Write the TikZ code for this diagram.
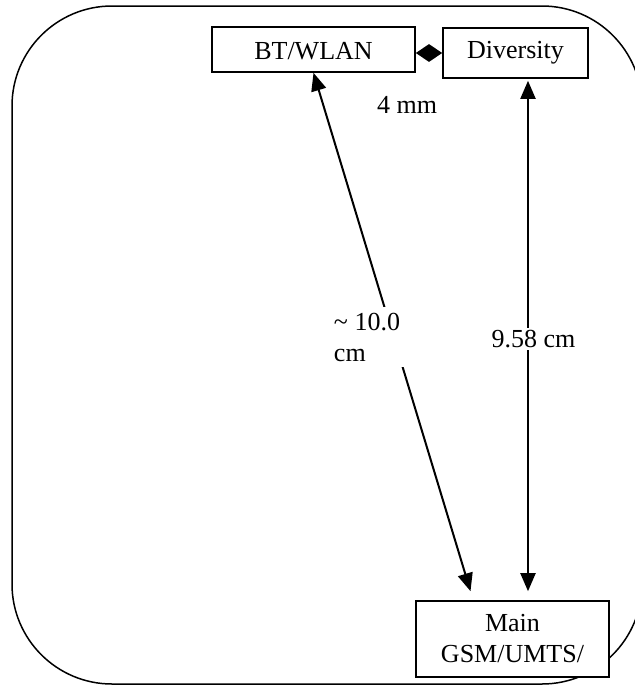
\documentclass[tikz,border=0pt]{standalone}
\usepackage{fontspec}
\setmainfont{Liberation Serif}
\usetikzlibrary{arrows.meta,positioning}

\tikzset{
  >={Triangle[length=9pt,width=7.5pt]},
  diam/.tip={Triangle[length=6.5pt,width=8.5pt]}
}

\begin{document}
\begin{tikzpicture}[x=0.5pt,y=-0.5pt,font=\fontsize{13}{15.5}\selectfont]
  \useasboundingbox (0,0) rectangle (635,685);
  % phone outline
  \draw[line width=0.75pt,rounded corners=50pt] (12,6) rectangle (642,684);
  \begin{scope}[every node/.style={draw,fill=white,rectangle,line width=0.8pt,inner sep=0pt}]
    \node (bt)[minimum width=101.5pt,minimum height=22.5pt,text height=10pt] at (313.5,49.5) {BT/WLAN};
    \node (div)[minimum width=72.5pt,minimum height=25pt] at (515.5,53) {Diversity};
    \node (main)[minimum width=96.5pt,minimum height=38pt,align=center] at (512.5,639) {Main\\GSM/UMTS/};
  \end{scope}
  \begin{scope}
    [every edge/.style={draw=black,line width=1pt},
    every node/.style={fill=white}]
    \path (bt.east |- div.west) edge[diam-diam] node[fill=none,xshift=-11pt,yshift=-25.75pt] {4 mm} (div.west);
    \path (bt.south) edge[<->] node[xshift=-12.5pt,yshift=-2.5pt,align=left,inner sep=3pt] {\textasciitilde{} 10.0\\cm} ([xshift=-21pt,yshift=4.5pt]main.north);
    \path ([xshift=6.25pt,yshift=-1pt]div.south) edge[<->] node[xshift=2.75pt,yshift=-1.5pt,inner sep=1pt] {9.58 cm} ([xshift=7.75pt,yshift=4.5pt]main.north);
  \end{scope}
\end{tikzpicture}
\end{document}
